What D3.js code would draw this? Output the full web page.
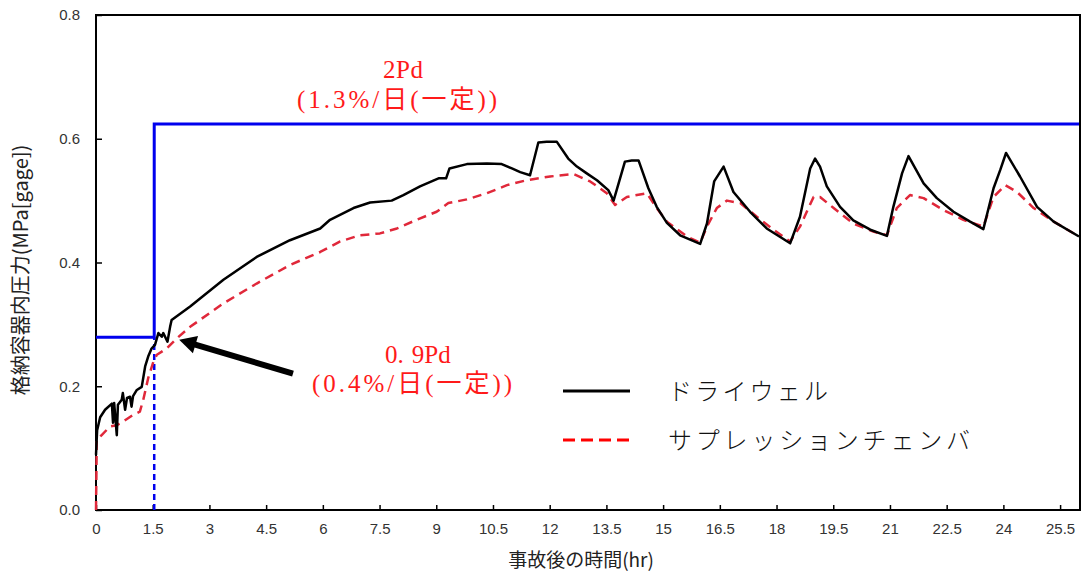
<!DOCTYPE html>
<html>
<head>
<meta charset="utf-8">
<script src="https://cdn.jsdelivr.net/npm/d3@7/dist/d3.min.js"></script>
<style>
  html, body { margin: 0; padding: 0; background: #fff; }
  svg { display: block; }
</style>
</head>
<body>
<svg id="chart" width="1086" height="576"></svg>
<script>
// Containment pressure after the accident (MPa gage) vs. elapsed time (hr)
const xTickValues = [0, 1.5, 3, 4.5, 6, 7.5, 9, 10.5, 12, 13.5, 15, 16.5, 18, 19.5, 21, 22.5, 24, 25.5];
const xTickLabels = ["0", "1.5", "3", "4.5", "6", "7.5", "9", "10.5", "12", "13.5", "15", "16.5", "18", "19.5", "21", "22.5", "24", "25.5"];
const yTickValues = [0, 0.2, 0.4, 0.6, 0.8];
const yTickLabels = ["0.0", "0.2", "0.4", "0.6", "0.8"];

// Drywell pressure
const drywellTime = [0, 0.03, 0.11, 0.24, 0.42, 0.45, 0.48, 0.55, 0.58, 0.68, 0.71, 0.77, 0.82, 0.90, 0.94, 0.98, 1.08, 1.21, 1.30, 1.38, 1.47, 1.56, 1.65, 1.74, 1.78, 1.89, 1.96, 2.00, 2.49, 3.37, 4.25, 5.13, 5.93, 6.19, 6.81, 7.25, 7.82, 8.13, 8.57, 9.06, 9.26, 9.35, 9.81, 10.34, 10.73, 11.00, 11.22, 11.48, 11.70, 11.92, 12.19, 12.49, 12.72, 12.98, 13.25, 13.55, 13.69, 13.99, 14.17, 14.35, 14.61, 14.83, 15.10, 15.45, 15.98, 16.16, 16.35, 16.60, 16.86, 17.30, 17.74, 18.36, 18.62, 18.89, 19.02, 19.15, 19.33, 19.68, 20.03, 20.48, 20.92, 21.09, 21.32, 21.49, 21.89, 22.24, 22.68, 23.12, 23.47, 23.74, 23.92, 24.07, 24.44, 24.89, 25.33, 26.0];
const drywellPressure = [0.089, 0.129, 0.150, 0.162, 0.172, 0.141, 0.173, 0.121, 0.170, 0.178, 0.189, 0.162, 0.181, 0.183, 0.167, 0.184, 0.194, 0.199, 0.232, 0.248, 0.261, 0.267, 0.286, 0.280, 0.286, 0.272, 0.296, 0.307, 0.329, 0.372, 0.409, 0.436, 0.455, 0.469, 0.488, 0.497, 0.500, 0.509, 0.523, 0.536, 0.536, 0.552, 0.559, 0.560, 0.559, 0.552, 0.546, 0.541, 0.594, 0.595, 0.595, 0.568, 0.555, 0.544, 0.533, 0.517, 0.500, 0.563, 0.565, 0.565, 0.520, 0.490, 0.464, 0.444, 0.430, 0.463, 0.531, 0.555, 0.514, 0.482, 0.455, 0.431, 0.474, 0.552, 0.568, 0.555, 0.523, 0.490, 0.468, 0.453, 0.443, 0.490, 0.544, 0.572, 0.528, 0.504, 0.482, 0.466, 0.454, 0.520, 0.550, 0.577, 0.539, 0.490, 0.466, 0.442];

// Suppression chamber pressure
const wetwellTime = [0, 0.02, 0.15, 0.37, 0.55, 0.72, 0.99, 1.16, 1.25, 1.38, 1.52, 1.61, 1.87, 2.13, 2.49, 3.37, 4.25, 5.13, 5.93, 6.46, 6.98, 7.51, 7.96, 8.48, 9.01, 9.32, 9.81, 10.34, 10.87, 11.39, 12.01, 12.63, 13.07, 13.51, 13.73, 14.04, 14.57, 14.83, 15.10, 15.63, 15.98, 16.16, 16.42, 16.69, 17.04, 17.48, 17.92, 18.36, 18.62, 18.98, 19.15, 19.51, 20.03, 20.56, 20.92, 21.18, 21.53, 21.89, 22.41, 22.94, 23.47, 23.74, 24.05, 24.36, 24.80, 25.33, 26.0];
const wetwellPressure = [0.0, 0.113, 0.121, 0.135, 0.137, 0.143, 0.154, 0.159, 0.178, 0.213, 0.240, 0.251, 0.261, 0.277, 0.296, 0.334, 0.366, 0.396, 0.417, 0.434, 0.444, 0.447, 0.455, 0.469, 0.482, 0.496, 0.502, 0.512, 0.525, 0.533, 0.539, 0.543, 0.531, 0.512, 0.493, 0.506, 0.512, 0.488, 0.466, 0.442, 0.432, 0.458, 0.488, 0.500, 0.496, 0.474, 0.453, 0.434, 0.458, 0.506, 0.506, 0.488, 0.463, 0.450, 0.444, 0.488, 0.509, 0.504, 0.485, 0.469, 0.458, 0.506, 0.525, 0.514, 0.488, 0.466, 0.442];

// Allowable leakage limits: 0.9Pd until 1.54 hr, then 2Pd
const limitTime = [0, 1.54, 1.54, 26];
const limitPressure = [0.279, 0.279, 0.624, 0.624];

const svg = d3.select("#chart");
const plotLeft = 96, plotRight = 1079, plotTop = 15, plotBottom = 510;

const x = d3.scaleLinear().domain([0, 26]).range([plotLeft, plotRight]);
const y = d3.scaleLinear().domain([0, 0.8]).range([plotBottom, plotTop]);

const tickFont = "'Liberation Sans', Arial, sans-serif";
const jpSans = "'Noto Sans CJK JP', sans-serif";
const jpSerif = "'Liberation Serif', 'Noto Sans CJK JP', serif";

// Axes with inward ticks
const xAxis = d3.axisBottom(x)
  .tickValues(xTickValues)
  .tickFormat((d, i) => xTickLabels[i])
  .tickSizeInner(-5).tickSizeOuter(0).tickPadding(13);
const gx = svg.append("g").attr("transform", `translate(0,${plotBottom})`).call(xAxis);
gx.select(".domain").remove();
gx.selectAll("line").attr("stroke", "#000").attr("stroke-width", 1.5);
gx.selectAll("text").attr("font-family", tickFont).attr("font-size", 15).attr("fill", "#333");

const yAxis = d3.axisLeft(y)
  .tickValues(yTickValues)
  .tickFormat((d, i) => yTickLabels[i])
  .tickSizeInner(-6).tickSizeOuter(0).tickPadding(16);
const gy = svg.append("g").attr("transform", `translate(${plotLeft},0)`).call(yAxis);
gy.select(".domain").remove();
gy.selectAll("line").attr("stroke", "#000").attr("stroke-width", 1.5);
gy.selectAll("text").attr("font-family", tickFont).attr("font-size", 15).attr("fill", "#333");

// Plot frame
svg.append("rect")
  .attr("x", plotLeft).attr("y", plotTop)
  .attr("width", x(26) - plotLeft + 1).attr("height", plotBottom - plotTop)
  .attr("fill", "none").attr("stroke", "#000").attr("stroke-width", 2);

// Limit lines
const line = d3.line().x(d => x(d[0])).y(d => y(d[1]));
svg.append("path")
  .datum(limitTime.map((t, i) => [t, limitPressure[i]]))
  .attr("d", line)
  .attr("fill", "none").attr("stroke", "#0000ee").attr("stroke-width", 3);
svg.append("path")
  .datum([[limitTime[1], 0], [limitTime[1], limitPressure[1]]])
  .attr("d", line)
  .attr("fill", "none").attr("stroke", "#0000ee").attr("stroke-width", 2.5)
  .attr("stroke-dasharray", "6,4");

// Pressure curves
svg.append("path")
  .datum(wetwellTime.map((t, i) => [t, wetwellPressure[i]]))
  .attr("d", line)
  .attr("fill", "none").attr("stroke", "#e0283a").attr("stroke-width", 2.5)
  .attr("stroke-dasharray", "9,6").attr("stroke-linejoin", "round");
svg.append("path")
  .datum(drywellTime.map((t, i) => [t, drywellPressure[i]]))
  .attr("d", line)
  .attr("fill", "none").attr("stroke", "#000").attr("stroke-width", 2.5)
  .attr("stroke-linejoin", "round");

// Arrow pointing at the 0.9Pd limit
const tip = [x(2.2), y(0.275)], tail = [x(5.21), y(0.2205)];
const dx = tip[0] - tail[0], dy = tip[1] - tail[1];
const len = Math.hypot(dx, dy), ux = dx / len, uy = dy / len;
const headLen = 17, headHalf = 9;
const base = [tip[0] - ux * headLen, tip[1] - uy * headLen];
svg.append("line")
  .attr("x1", tail[0]).attr("y1", tail[1])
  .attr("x2", base[0] + ux * 2).attr("y2", base[1] + uy * 2)
  .attr("stroke", "#000").attr("stroke-width", 6);
svg.append("polygon")
  .attr("points", [
    tip,
    [base[0] - uy * headHalf, base[1] + ux * headHalf],
    [base[0] + uy * headHalf, base[1] - ux * headHalf]
  ].map(p => p.join(",")).join(" "))
  .attr("fill", "#000");

// Limit annotations (pieces spaced like a fixed-pitch Mincho face)
function redLabel(parts, x0, by, width) {
  const t = svg.append("text")
    .attr("x", x0).attr("y", by)
    .attr("font-family", jpSerif).attr("font-size", 25)
    .attr("fill", "#ff1a1a");
  parts.forEach(p => t.append("tspan").attr("dx", p.dx || 0).text(p.s));
  if (width) t.attr("textLength", width).attr("lengthAdjust", "spacing");
  return t;
}
redLabel([{ s: "2Pd" }], 383, 78, 40);
redLabel([{ s: "(1.3%/日(一定))" }], 297, 108, 200);
redLabel([{ s: "0." }, { s: "9Pd", dx: 8 }], 385, 363, null);
redLabel([{ s: "(0.4%/日(一定))" }], 312, 392, 200);

// Legend
const legend = svg.append("g");
legend.append("line").attr("x1", 563).attr("x2", 630).attr("y1", 391).attr("y2", 391)
  .attr("stroke", "#000").attr("stroke-width", 3);
legend.append("line").attr("x1", 563).attr("x2", 630).attr("y1", 440).attr("y2", 440)
  .attr("stroke", "#ff0000").attr("stroke-width", 3).attr("stroke-dasharray", "12,6");
legend.append("text").attr("x", 668).attr("y", 400)
  .attr("font-family", jpSans).attr("font-size", 24).attr("font-weight", 300).attr("fill", "#111")
  .attr("textLength", 160).attr("lengthAdjust", "spacing")
  .text("ドライウェル");
legend.append("text").attr("x", 668).attr("y", 449)
  .attr("font-family", jpSans).attr("font-size", 24).attr("font-weight", 300).attr("fill", "#111")
  .attr("textLength", 302).attr("lengthAdjust", "spacing")
  .text("サプレッションチェンバ");

// Axis titles
svg.append("text")
  .attr("x", 581).attr("y", 567)
  .attr("text-anchor", "middle")
  .attr("font-family", jpSans).attr("font-size", 19).attr("fill", "#222")
  .text("事故後の時間(hr)");
svg.append("text")
  .attr("transform", "translate(28,270) rotate(-90)")
  .attr("text-anchor", "middle")
  .attr("font-family", jpSans).attr("font-size", 20).attr("fill", "#222")
  .text("格納容器内圧力(MPa[gage])");
</script>
</body>
</html>
